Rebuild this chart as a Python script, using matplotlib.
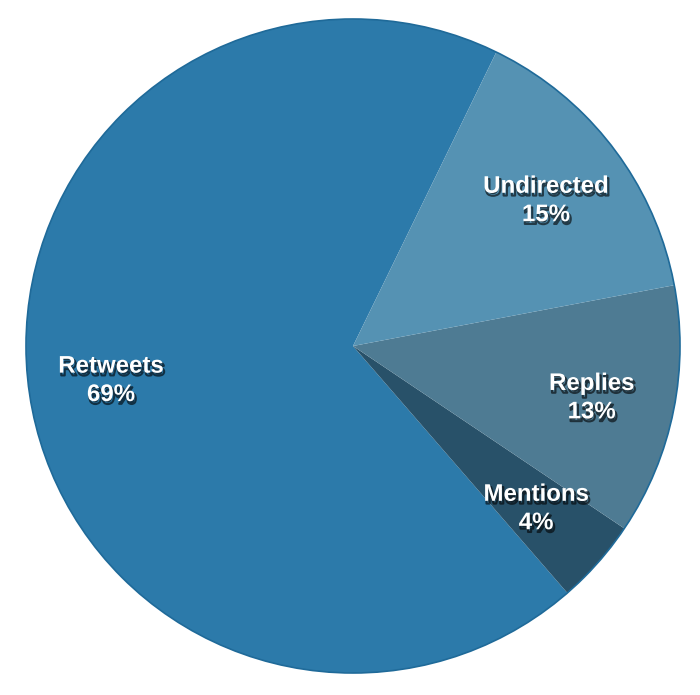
import matplotlib.pyplot as plt
import matplotlib.patheffects as pe

# message types (angles)
labels = ['Retweets', 'Mentions', 'Replies', 'Undirected']
shares = [68.6, 4.2, 12.4, 14.8]
pct_text = ['69%', '4%', '13%', '15%']
colors = ['#2c7aaa', '#285169', '#4e7b93', '#5592b3']

# label anchor points in pie units (radius 1)
label_pos = [(-0.74, -0.105), (0.56, -0.497), (0.73, -0.158), (0.59, 0.445)]

fig = plt.figure(figsize=(7, 6.95), dpi=100)
ax = fig.add_axes([0, 0, 1, 1])

r_px = 327.0
ax.pie(shares, colors=colors, startangle=64, counterclock=True,
       radius=1, wedgeprops={'linewidth': 0})
ax.add_patch(plt.Circle((0, 0), 1, fill=False, ec='#1f6a99', lw=1.2))
ax.set_xlim(-353 / r_px, (700 - 353) / r_px)
ax.set_ylim(-(695 - 346) / r_px, 346 / r_px)
ax.set_aspect('auto')
ax.axis('off')

shadow = [pe.SimpleLineShadow(offset=(1, -2), shadow_color='black', alpha=0.6, linewidth=1.5),
          pe.Normal()]
for name, pct, (x, y) in zip(labels, pct_text, label_pos):
    ax.text(x, y, name + '\n' + pct, ha='center', va='center', color='white',
            fontsize=17.3, fontweight='bold', family='Liberation Sans',
            linespacing=1.3, path_effects=shadow)

fig.savefig('out.png', dpi=100)
